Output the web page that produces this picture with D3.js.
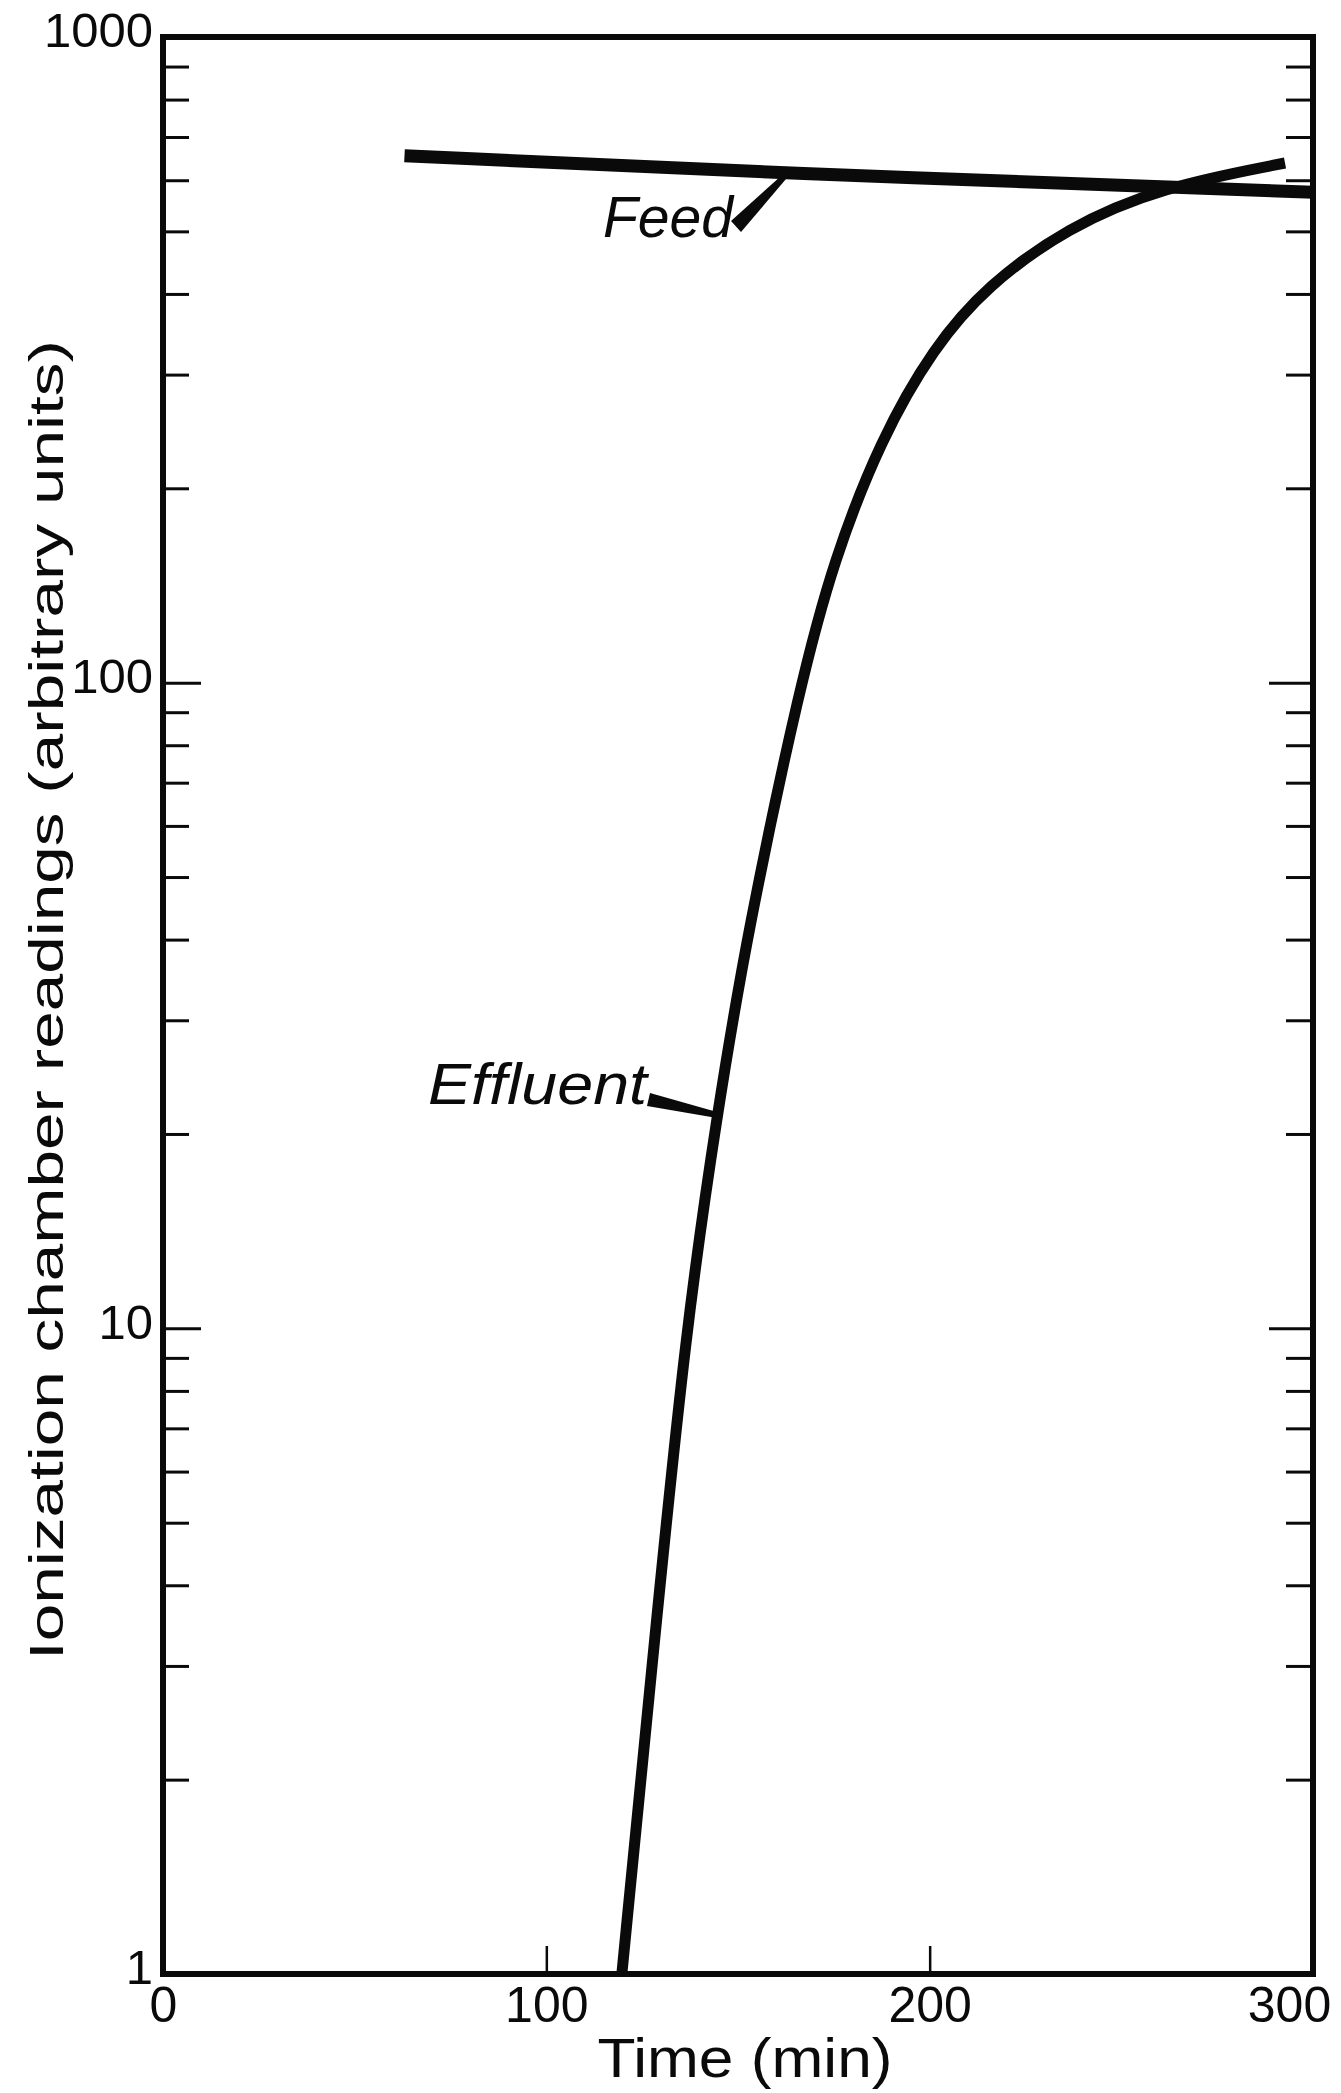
<!DOCTYPE html>
<html>
<head>
<meta charset="utf-8">
<title>Ionization chamber readings vs time</title>
<script src="https://cdnjs.cloudflare.com/ajax/libs/d3/7.8.5/d3.min.js"></script>
<style>
  body { margin: 0; background: #fff; }
  text { font-family: "Liberation Sans", Arial, sans-serif; fill: #0a0a0a; }
</style>
</head>
<body>
<script>
// data: time (min) and reading (arbitrary units)
var feedTime = [63, 160, 300];
var feedValue = [655, 615, 575];

var effluentTime = [119.7, 128, 136.4, 144.5, 152.4, 166.3, 175, 187.2, 201.1, 215, 235.9, 260.3, 292.7];
var effluentValue = [1, 3.2, 10, 21.4, 41, 100, 155, 238, 331, 412, 507, 585, 638];

var xTickLabels = [0, 100, 200, 300];
var xTicks = [100, 200];
var yTickLabels = [1, 10, 100, 1000];
var yMajorTicks = [10, 100];
var yMinorTicks = [2, 3, 4, 5, 6, 7, 8, 9, 20, 30, 40, 50, 60, 70, 80, 90, 200, 300, 400, 500, 600, 700, 800, 900];

var w = 1341, h = 2093;
// plot frame edges (note: "top" is a reserved window property, so use other names)
var plotL = 163, plotR = 1313, plotT = 37, plotB = 1974;
var ink = "#0a0a0a";

var svg = d3.select("body").append("svg")
    .attr("width", w)
    .attr("height", h);

var x = d3.scaleLinear().domain([0, 300]).range([plotL, plotR]);
var y = d3.scaleLog().domain([1, 1000]).range([plotB, plotT]);

// ticks, all pointing inward
function noDomain(g) { g.select(".domain").remove(); }
function tickStyle(g, wdt) {
  g.selectAll(".tick line").attr("stroke", ink).attr("stroke-width", wdt);
}

svg.append("g").attr("transform", "translate(" + plotL + ",0)")
   .call(d3.axisRight(y).tickValues(yMinorTicks).tickSize(26).tickFormat(""))
   .call(noDomain).call(tickStyle, 3);
svg.append("g").attr("transform", "translate(" + plotL + ",0)")
   .call(d3.axisRight(y).tickValues(yMajorTicks).tickSize(38).tickFormat(""))
   .call(noDomain).call(tickStyle, 3);
svg.append("g").attr("transform", "translate(" + plotR + ",0)")
   .call(d3.axisLeft(y).tickValues(yMinorTicks).tickSize(27).tickFormat(""))
   .call(noDomain).call(tickStyle, 3);
svg.append("g").attr("transform", "translate(" + plotR + ",0)")
   .call(d3.axisLeft(y).tickValues(yMajorTicks).tickSize(44).tickFormat(""))
   .call(noDomain).call(tickStyle, 3);
svg.append("g").attr("transform", "translate(0," + plotB + ")")
   .call(d3.axisTop(x).tickValues(xTicks).tickSize(28).tickFormat(""))
   .call(noDomain).call(tickStyle, 2.5);

// tick labels
var yLab = svg.append("g").attr("transform", "translate(" + (plotL - 8) + ",0)")
   .call(d3.axisLeft(y).tickValues(yTickLabels).tickSize(0).tickPadding(2).tickFormat(d3.format("d")))
   .call(noDomain);
yLab.selectAll("text")
    .attr("font-size", "49px")
    .attr("font-family", "Liberation Sans, sans-serif")
    .attr("fill", ink)
    .attr("dy", "0.2em");

var xLab = svg.append("g").attr("transform", "translate(0," + plotB + ")")
   .call(d3.axisBottom(x).tickValues(xTickLabels).tickSize(0).tickPadding(12).tickFormat(d3.format("d")))
   .call(noDomain);
xLab.selectAll("text")
    .attr("font-size", "50px")
    .attr("font-family", "Liberation Sans, sans-serif")
    .attr("fill", ink)
    .attr("dx", function(d) { return d === 300 ? -24 : 0; }); // last label is pulled inside the page

// frame
svg.append("rect")
    .attr("x", plotL).attr("y", plotT)
    .attr("width", plotR - plotL).attr("height", plotB - plotT)
    .attr("fill", "none")
    .attr("stroke", ink)
    .attr("stroke-width", 6);

// axis titles
svg.append("text")
    .text("Time (min)")
    .attr("x", 745).attr("y", 2077)
    .attr("text-anchor", "middle")
    .attr("font-size", "55px")
    .attr("textLength", 295)
    .attr("lengthAdjust", "spacingAndGlyphs");

svg.append("text")
    .text("Ionization chamber readings (arbitrary units)")
    .attr("transform", "translate(63,1000) rotate(-90)")
    .attr("text-anchor", "middle")
    .attr("font-size", "49px")
    .attr("textLength", 1320)
    .attr("lengthAdjust", "spacingAndGlyphs");

// curves (B-spline smooths the hand-read points)
var line = d3.line()
    .x(function(d) { return x(d[0]); })
    .y(function(d) { return y(d[1]); })
    .curve(d3.curveBasis);

var feed = feedTime.map(function(t, i) { return [t, feedValue[i]]; });
var effluent = effluentTime.map(function(t, i) { return [t, effluentValue[i]]; });

svg.append("path")
    .datum(feed)
    .attr("d", line)
    .attr("fill", "none")
    .attr("stroke", ink)
    .attr("stroke-width", 13);

svg.append("path")
    .datum(effluent)
    .attr("d", line)
    .attr("fill", "none")
    .attr("stroke", ink)
    .attr("stroke-width", 11);

// labels with wedge-shaped leaders
svg.append("text")
    .text("Feed")
    .attr("x", 603).attr("y", 237)
    .attr("font-size", "58px")
    .attr("font-style", "italic")
    .attr("textLength", 130)
    .attr("lengthAdjust", "spacingAndGlyphs");

svg.append("polygon")
    .attr("points", "731,221 741,232 786,179 781,176")
    .attr("fill", ink);

svg.append("text")
    .text("Effluent")
    .attr("x", 428).attr("y", 1104)
    .attr("font-size", "58px")
    .attr("font-style", "italic")
    .attr("textLength", 219)
    .attr("lengthAdjust", "spacingAndGlyphs");

svg.append("polygon")
    .attr("points", "650,1093 647,1106 717,1118 717,1112")
    .attr("fill", ink);
</script>
</body>
</html>
